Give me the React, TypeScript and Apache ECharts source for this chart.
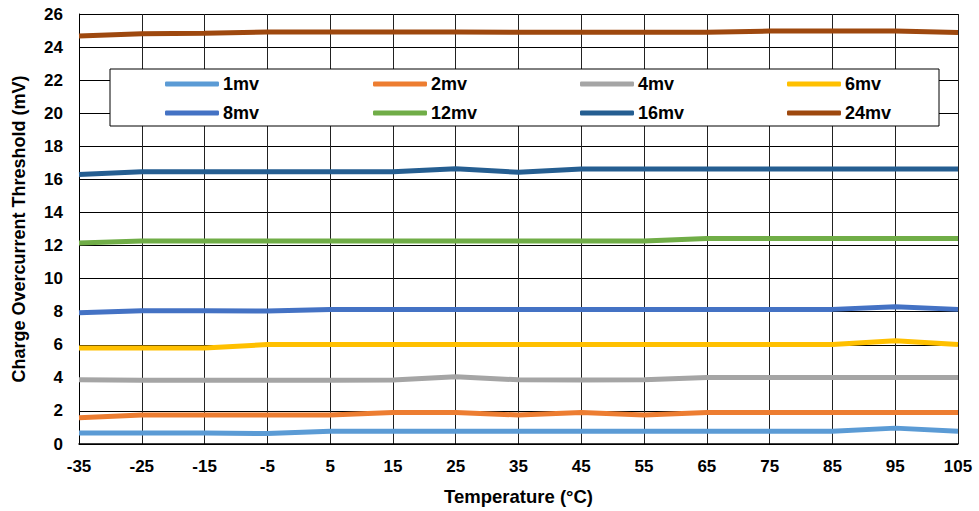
import React, { useEffect, useRef } from "react";
import * as echarts from "echarts";

const temperatures = ["-35", "-25", "-15", "-5", "5", "15", "25", "35", "45", "55", "65", "75", "85", "95", "105"];

const s1mv = [0.66, 0.66, 0.66, 0.63, 0.77, 0.77, 0.77, 0.77, 0.77, 0.77, 0.77, 0.77, 0.77, 0.96, 0.77];
const s2mv = [1.59, 1.75, 1.75, 1.75, 1.75, 1.91, 1.91, 1.75, 1.91, 1.75, 1.91, 1.91, 1.91, 1.91, 1.91];
const s4mv = [3.88, 3.86, 3.85, 3.85, 3.86, 3.87, 4.06, 3.88, 3.87, 3.88, 4.02, 4.02, 4.02, 4.02, 4.02];
const s6mv = [5.81, 5.81, 5.81, 6.01, 6.01, 6.01, 6.01, 6.01, 6.01, 6.01, 6.01, 6.01, 6.01, 6.25, 6.01];
const s8mv = [7.94, 8.06, 8.05, 8.04, 8.14, 8.14, 8.14, 8.14, 8.14, 8.14, 8.14, 8.14, 8.14, 8.3, 8.14];
const s12mv = [12.16, 12.28, 12.28, 12.28, 12.28, 12.28, 12.28, 12.27, 12.27, 12.28, 12.42, 12.42, 12.42, 12.42, 12.42];
const s16mv = [16.3, 16.46, 16.46, 16.46, 16.46, 16.46, 16.65, 16.43, 16.63, 16.63, 16.63, 16.63, 16.63, 16.63, 16.63];
const s24mv = [24.67, 24.8, 24.83, 24.91, 24.91, 24.91, 24.91, 24.9, 24.9, 24.9, 24.9, 24.97, 24.97, 24.97, 24.88];

const seriesNames = ["1mv", "2mv", "4mv", "6mv", "8mv", "12mv", "16mv", "24mv"];
const seriesColors = ["#5B9BD5", "#ED7D31", "#A5A5A5", "#FFC000", "#4472C4", "#70AD47", "#255E91", "#9E480E"];
const seriesData = [s1mv, s2mv, s4mv, s6mv, s8mv, s12mv, s16mv, s24mv];

const legendColumns = [["1mv", "8mv"], ["2mv", "12mv"], ["4mv", "16mv"], ["6mv", "24mv"]];
const legendLefts = [165, 373, 580, 787];

const FONT = "Liberation Sans, Arial, sans-serif";

export default function App() {
  const ref = useRef<HTMLDivElement>(null);
  useEffect(() => {
    if (!ref.current) return;
    const chart = echarts.init(ref.current, null, { renderer: "svg" });
    chart.setOption({
      animation: false,
      backgroundColor: "#fff",
      grid: { left: 79, right: 21, top: 14, bottom: 66, containLabel: false },
      xAxis: {
        type: "category",
        data: temperatures,
        boundaryGap: false,
        name: "Temperature (°C)",
        nameLocation: "middle",
        nameGap: 43,
        nameTextStyle: { fontFamily: FONT, fontWeight: "bold", fontSize: 18.5, color: "#000" },
        axisLine: { lineStyle: { color: "#000", width: 1.5 } },
        axisTick: { show: false },
        axisLabel: { fontFamily: FONT, fontWeight: "bold", fontSize: 17, color: "#000", margin: 14, interval: 0 },
        splitLine: { show: true, interval: 0, lineStyle: { color: "#222", width: 1 } },
      },
      yAxis: {
        type: "value",
        min: 0,
        max: 26,
        interval: 2,
        name: "Charge Overcurrent Threshold (mV)",
        nameLocation: "middle",
        nameGap: 51,
        nameTextStyle: { fontFamily: FONT, fontWeight: "bold", fontSize: 18, color: "#000" },
        axisLine: { show: true, lineStyle: { color: "#000", width: 1 } },
        axisTick: { show: false },
        axisLabel: { fontFamily: FONT, fontWeight: "bold", fontSize: 17, color: "#000", margin: 16 },
        splitLine: { show: true, lineStyle: { color: "#000", width: 1 } },
      },
      graphic: [
        {
          type: "rect",
          z: 10,
          shape: { x: 110, y: 69, width: 829, height: 57 },
          style: { fill: "#fff", stroke: "#000", lineWidth: 1 },
        },
      ],
      legend: legendColumns.map((col, i) => ({
        z: 20,
        orient: "vertical",
        left: legendLefts[i],
        top: 75,
        padding: 0,
        itemWidth: 54,
        itemHeight: 5,
        itemGap: 11,
        icon: "roundRect",
        data: col,
        textStyle: { fontFamily: FONT, fontWeight: "bold", fontSize: 18, color: "#000", padding: [0, 0, 0, -1] },
      })),
      series: seriesNames.map((name, i) => ({
        name,
        type: "line",
        data: seriesData[i],
        showSymbol: false,
        symbol: "none",
        smooth: false,
        lineStyle: { color: seriesColors[i], width: 5 },
        itemStyle: { color: seriesColors[i] },
      })),
    });
    return () => chart.dispose();
  }, []);
  return <div ref={ref} style={{ position: "absolute", left: 0, top: 0, width: 979, height: 511 }} />;
}
